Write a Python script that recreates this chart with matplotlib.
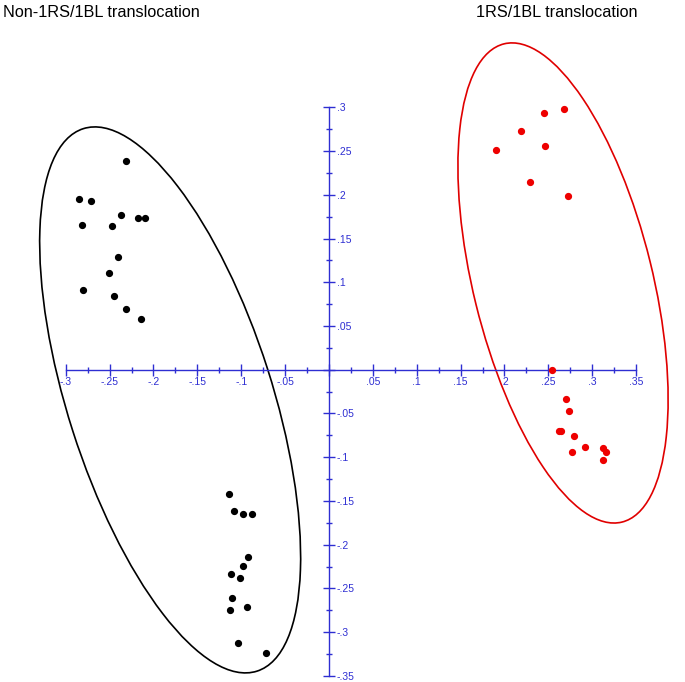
import matplotlib
matplotlib.use('Agg')
import matplotlib.pyplot as plt
from matplotlib.patches import Ellipse
from matplotlib.ticker import FixedLocator, FuncFormatter

plt.rcParams['font.family'] = ['Liberation Sans', 'DejaVu Sans']

# Non-1RS/1BL translocation (black)
non_x = [-0.231, -0.2846, -0.271, -0.2374, -0.2178, -0.2097, -0.282, -0.2476,
         -0.2405, -0.251, -0.2807, -0.2453, -0.231, -0.2146,
         -0.1136, -0.1079, -0.0984, -0.0877, -0.092, -0.0984, -0.1113, -0.1018,
         -0.1102, -0.1125, -0.0934, -0.104, -0.0722]
non_y = [0.239, 0.1947, 0.1924, 0.1769, 0.173, 0.173, 0.1659, 0.1648,
         0.1284, 0.1106, 0.0906, 0.0838, 0.0693, 0.0576,
         -0.1419, -0.1611, -0.1646, -0.1646, -0.2137, -0.2246, -0.233, -0.238,
         -0.2607, -0.2749, -0.2714, -0.3122, -0.3238]

# 1RS/1BL translocation (red)
trans_x = [0.2447, 0.2681, 0.2185, 0.19, 0.2458, 0.2291, 0.2727,
           0.2538, 0.2704, 0.2731, 0.2625, 0.2647, 0.2788, 0.2921, 0.2766,
           0.3119, 0.3157, 0.3122]
trans_y = [0.2935, 0.2985, 0.2727, 0.2511, 0.256, 0.2144, 0.1981,
           -0.0004, -0.0331, -0.0473, -0.0696, -0.0696, -0.0761, -0.088, -0.0942,
           -0.0892, -0.0942, -0.1035]

axis_blue = '#2e2ed2'

fig = plt.figure(figsize=(6.85, 6.82), dpi=100)
ax = fig.add_axes([0, 0, 1, 1])
ax.set_xlim(-0.3749, 0.4057)
ax.set_ylim(-0.357, 0.4227)

ax.plot(non_x, non_y, 'o', color='black', markersize=4.2, zorder=3)
ax.plot(trans_x, trans_y, 'o', color='#ee0000', markersize=4.2, zorder=3)

ax.add_patch(Ellipse((-0.181, -0.0345), 0.651, 0.233, angle=107.7,
                     fill=False, edgecolor='black', linewidth=1.2, zorder=2))
ax.add_patch(Ellipse((0.2667, 0.0992), 0.563, 0.2043, angle=103.8,
                     fill=False, edgecolor='#e00000', linewidth=1.2, zorder=2))

for s in ['top', 'left']:
    ax.spines[s].set_visible(False)
ax.spines['bottom'].set_position(('data', 0))
ax.spines['bottom'].set_bounds(-0.3, 0.35)
ax.spines['right'].set_position(('data', 0))
ax.spines['right'].set_bounds(-0.35, 0.3)
for s in ['bottom', 'right']:
    ax.spines[s].set_color(axis_blue)
    ax.spines[s].set_linewidth(1.0)
ax.xaxis.tick_bottom()
ax.yaxis.tick_right()


def fmt(v, pos):
    if abs(v) < 1e-9:
        return ''
    s = f"{v:.2f}".rstrip('0')
    return s.replace('0.', '.')


xt = [i * 0.05 for i in range(-6, 8)]
yt = [i * 0.05 for i in range(-7, 7)]
xt_minor = [i * 0.05 + 0.025 for i in range(-6, 7)]
yt_minor = [i * 0.05 + 0.025 for i in range(-7, 6)]
ax.set_xticks(xt)
ax.set_yticks(yt)
ax.xaxis.set_minor_locator(FixedLocator(xt_minor))
ax.yaxis.set_minor_locator(FixedLocator(yt_minor))
ax.xaxis.set_major_formatter(FuncFormatter(fmt))
ax.yaxis.set_major_formatter(FuncFormatter(fmt))
ax.tick_params(which='major', direction='inout', length=8, width=1.0,
               color=axis_blue, labelcolor=axis_blue, labelsize=7.5, pad=1.5)
ax.tick_params(which='minor', direction='inout', length=5, width=1.0,
               color=axis_blue)

fig.text(0.004, 0.981, 'Non-1RS/1BL translocation', fontsize=11.7,
         ha='left', va='center')
fig.text(0.695, 0.981, '1RS/1BL translocation', fontsize=11.7,
         ha='left', va='center')

fig.savefig('out.png', dpi=100)
